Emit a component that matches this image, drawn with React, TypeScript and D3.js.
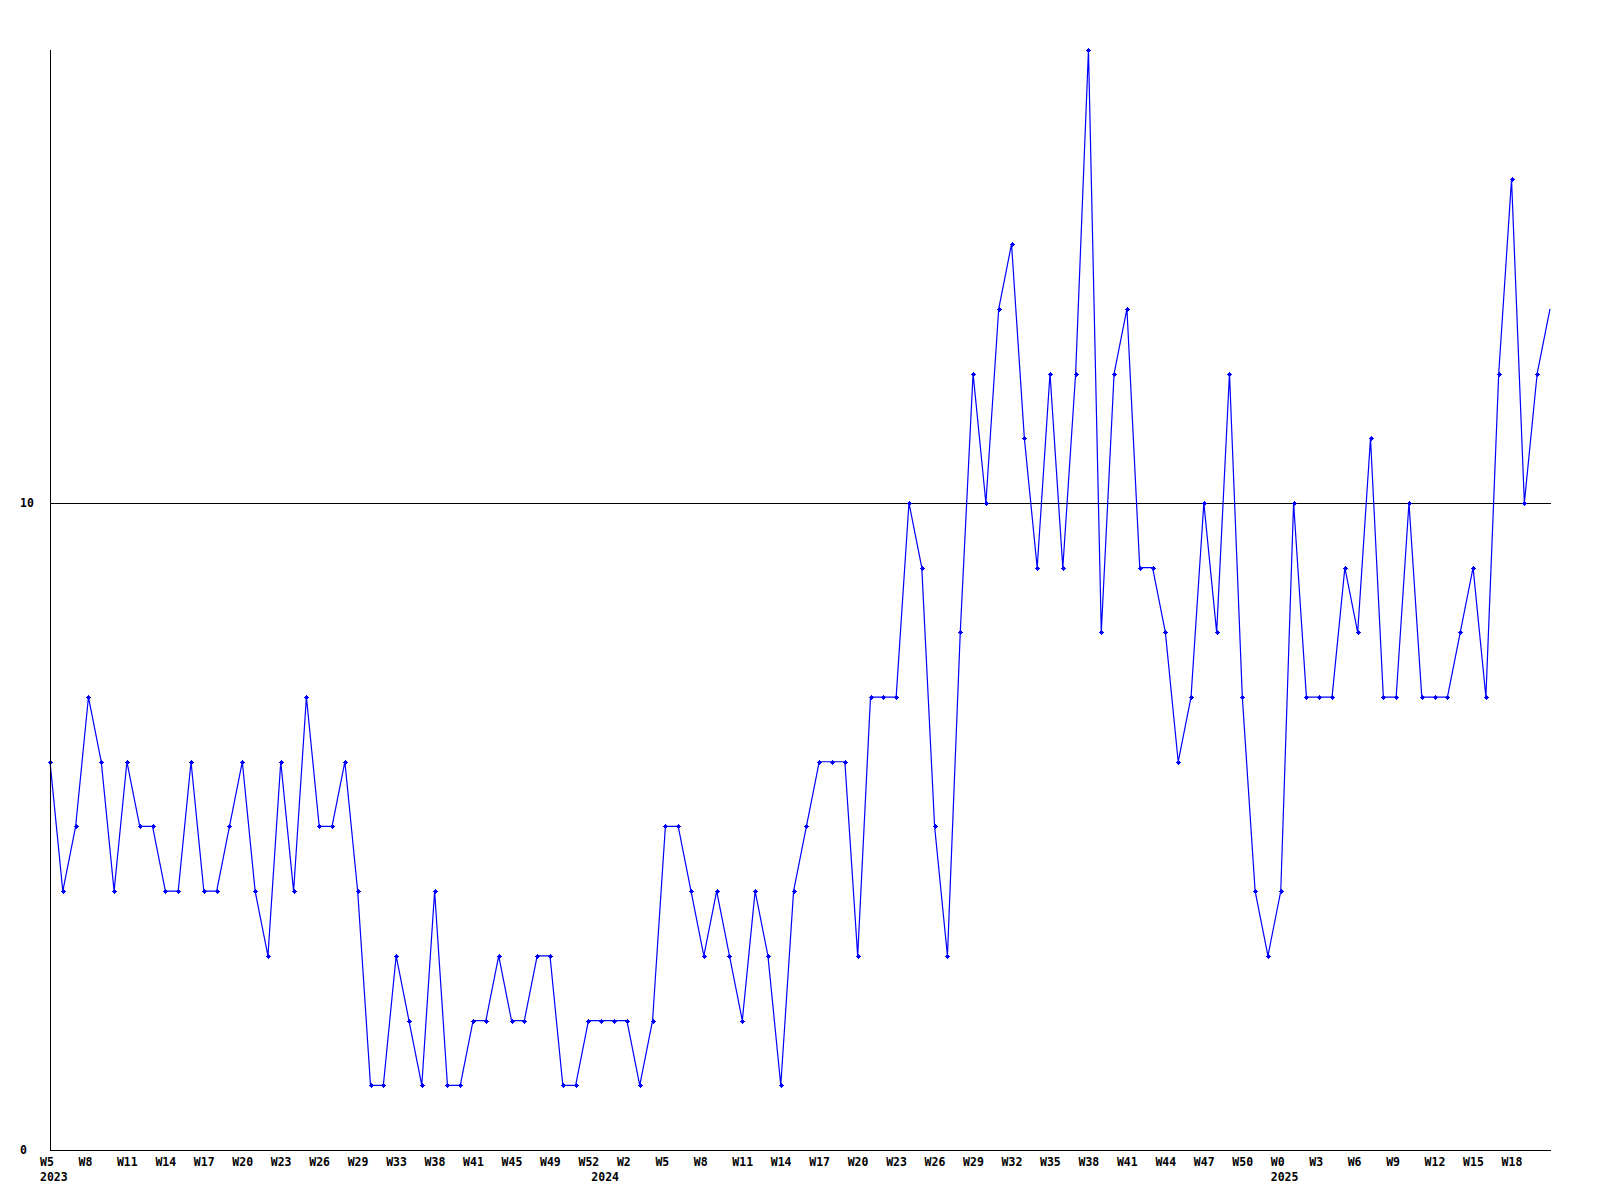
import React from "react";
import * as d3 from "d3";

// Weekly values (one per point)
const values: number[] = [
  6, 4, 5, 7, 6, 4, 6, 5, 5, 4,
  4, 6, 4, 4, 5, 6, 4, 3, 6, 4,
  7, 5, 5, 6, 4, 1, 1, 3, 2, 1,
  4, 1, 1, 2, 2, 3, 2, 2, 3, 3,
  1, 1, 2, 2, 2, 2, 1, 2, 5, 5,
  4, 3, 4, 3, 2, 4, 3, 1, 4, 5,
  6, 6, 6, 3, 7, 7, 7, 10, 9, 5,
  3, 8, 12, 10, 13, 14, 11, 9, 12, 9,
  12, 17, 8, 12, 13, 9, 9, 8, 6, 7,
  10, 8, 12, 7, 4, 3, 4, 10, 7, 7,
  7, 9, 8, 11, 7, 7, 10, 7, 7, 7,
  8, 9, 7, 12, 15, 10, 12, 13,
];

// Tick labels shown every third point
const tickLabels: string[] = [
  "W5", "W8", "W11", "W14", "W17", "W20", "W23", "W26", "W29", "W33",
  "W38", "W41", "W45", "W49", "W52", "W2", "W5", "W8", "W11", "W14",
  "W17", "W20", "W23", "W26", "W29", "W32", "W35", "W38", "W41", "W44",
  "W47", "W50", "W0", "W3", "W6", "W9", "W12", "W15", "W18",
];
const tickStep = 3;

const yearLabels: string[] = ["2023", "2024", "2025"];
const yearIndices: number[] = [0, 43, 96];

const yTicks: number[] = [0, 10];
const yMax = 17;

const W = 1600;
const H = 1200;
const left = 50;
const right = 1550;
const top = 50;
const bottom = 1150;

export default function App() {
  const idx = values.map((_, i) => i);
  const x = d3.scalePoint<number>().domain(idx).range([left, right]);
  const y = d3.scaleLinear().domain([0, yMax]).range([bottom, top]);
  const line = d3
    .line<number>()
    .x((_, i) => x(i) as number)
    .y((d) => y(d));

  const font = {
    fontFamily: "'DejaVu Sans Mono', monospace",
    fontWeight: "bold" as const,
    fontSize: 11.5,
  };

  return (
    <svg
      width={W}
      height={H}
      style={{ position: "absolute", left: 0, top: 0, background: "#fff" }}
    >
      <rect x={0} y={0} width={W} height={H} fill="#fff" />
      {/* gridline at 10 */}
      {yTicks
        .filter((t) => t > 0)
        .map((t) => (
          <line
            key={"g" + t}
            x1={left}
            x2={right + 1}
            y1={Math.round(y(t)) + 0.5}
            y2={Math.round(y(t)) + 0.5}
            stroke="#000"
            strokeWidth={1}
          />
        ))}
      {/* data line */}
      <path
        d={line(values) || ""}
        fill="none"
        stroke="#0000ff"
        strokeWidth={1.2}
      />
      {/* markers */}
      {values.slice(0, values.length - 1).map((v, i) => {
        const cx = Math.round(x(i) as number);
        const cy = Math.round(y(v));
        return (
          <g key={"m" + i} fill="#0000ff" shapeRendering="crispEdges">
            <rect x={cx - 1} y={cy - 1} width={3} height={3} />
            <rect x={cx - 2} y={cy} width={5} height={1} />
            <rect x={cx} y={cy - 2} width={1} height={5} />
          </g>
        );
      })}
      {/* axes */}
      <line
        x1={left + 0.5}
        x2={left + 0.5}
        y1={top}
        y2={bottom + 1}
        stroke="#000"
        strokeWidth={1}
      />
      <line
        x1={left}
        x2={right + 1}
        y1={bottom + 0.5}
        y2={bottom + 0.5}
        stroke="#000"
        strokeWidth={1}
      />
      {/* y labels */}
      {yTicks.map((t) => (
        <text key={"y" + t} x={20} y={y(t) + 4} {...font} fill="#000">
          {t}
        </text>
      ))}
      {/* x labels */}
      {tickLabels.map((lab, k) => (
        <text
          key={"x" + k}
          x={(x(k * tickStep) as number) - 10}
          y={bottom + 16}
          {...font}
          fill="#000"
        >
          {lab}
        </text>
      ))}
      {yearLabels.map((lab, k) => (
        <text
          key={"yr" + k}
          x={(x(yearIndices[k]) as number) - 10}
          y={bottom + 31}
          {...font}
          fill="#000"
        >
          {lab}
        </text>
      ))}
    </svg>
  );
}
